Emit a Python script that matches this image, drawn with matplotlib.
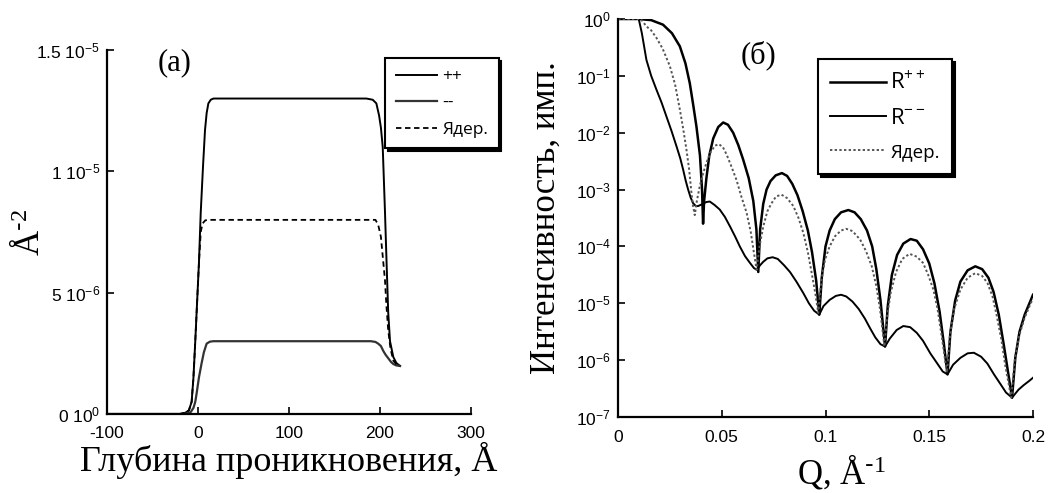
import numpy as np
import matplotlib
matplotlib.use('Agg')
import matplotlib.pyplot as plt
from matplotlib.ticker import FixedLocator, FixedFormatter, LogLocator, NullLocator

plt.rcParams['font.family'] = ['Liberation Sans', 'DejaVu Sans']
plt.rcParams['mathtext.default'] = 'regular'
plt.rcParams['axes.unicode_minus'] = False

serif = {'family': ['Liberation Serif', 'DejaVu Serif']}
legfont = ['Open Sans', 'DejaVu Sans']

# ---------------- (a) SLD profiles, units of 1e-6 A^-2 ----------------
depth_pp = [-100, -20, -14, -10, -7, -5, -3, -1.5, 1, 3, 5.5, 7.7, 9.5, 11.4, 14, 17,
            185, 192, 196, 199, 201, 203, 205.5, 207, 209, 211, 214.6, 218, 222]
sld_pp = [0, 0, 0.05, 0.15, 0.5, 1.5, 3.0, 4.2, 6.2, 8.3, 10.2, 11.7, 12.4, 12.8, 12.95, 13.0,
          13.0, 12.95, 12.8, 12.3, 11.8, 11.0, 8.3, 6.5, 4.2, 3.0, 2.35, 2.1, 1.98]

depth_mm = [-100, -20, -12, -8, -5, -3, -1.5, 1, 4, 6.5, 9.5, 13, 17,
            190, 195, 198, 201, 203.6, 206, 209, 212, 214.6, 218, 222]
sld_mm = [0, 0, 0.02, 0.08, 0.25, 0.5, 0.85, 1.5, 2.1, 2.55, 2.9, 2.98, 3.0,
          3.0, 2.97, 2.9, 2.8, 2.6, 2.45, 2.3, 2.15, 2.06, 2.0, 1.98]

depth_nuc = [-100, -20, -14, -10, -7, -5, -3, -1.5, 1, 3, 5, 8, 11,
             195, 198, 201, 203, 205.5, 207, 209, 211.5, 214.6, 218, 222]
sld_nuc = [0, 0, 0.05, 0.15, 0.5, 1.5, 3.0, 4.2, 6.2, 7.5, 7.85, 7.98, 8.0,
           8.0, 7.8, 7.3, 6.5, 5.5, 4.5, 3.46, 2.7, 2.2, 2.05, 1.98]

sld_ticks = [0, 5e-6, 1e-5, 1.5e-5]
sld_ticklabels = ['0 10$^{0}$', '5 10$^{-6}$', '1 10$^{-5}$', '1.5 10$^{-5}$']
depth_ticks = [-100, 0, 100, 200, 300]

# ---------------- (b) reflectivity, log10(R) ----------------
q_pp = [0.000, 0.010, 0.016, 0.0217, 0.026, 0.0298, 0.0325, 0.0346, 0.0362, 0.0378, 0.0395,
        0.0405, 0.0410, 0.0415, 0.0426, 0.0440, 0.0459, 0.0483, 0.0507, 0.0530, 0.0555,
        0.0580, 0.0603, 0.0630, 0.0652, 0.0667, 0.0676, 0.0685, 0.0700, 0.0716, 0.0735,
        0.0760, 0.0790, 0.0815, 0.0840, 0.0865, 0.0890, 0.0915, 0.0935, 0.0955, 0.0970,
        0.0982, 0.1000, 0.1020, 0.1045, 0.1075, 0.1110, 0.1140, 0.1170, 0.1200, 0.1225,
        0.1245, 0.1265, 0.1287, 0.1300, 0.1320, 0.1345, 0.1375, 0.1410, 0.1440, 0.1470,
        0.1500, 0.1525, 0.1550, 0.1570, 0.1588, 0.1602, 0.1625, 0.1650, 0.1685, 0.1722,
        0.1755, 0.1785, 0.1810, 0.1835, 0.1860, 0.1899, 0.1915, 0.1935, 0.1960, 0.2000]
lg_pp = [0.00, 0.00, -0.02, -0.10, -0.25, -0.48, -0.78, -1.13, -1.50, -1.89, -2.40,
         -3.00, -3.60, -3.20, -2.80, -2.40, -2.10, -1.90, -1.82, -1.86, -2.00,
         -2.22, -2.47, -2.80, -3.20, -3.70, -4.45, -3.70, -3.25, -3.00, -2.85,
         -2.75, -2.71, -2.76, -2.90, -3.10, -3.38, -3.72, -4.10, -4.60, -5.20,
         -4.55, -4.00, -3.72, -3.52, -3.40, -3.36, -3.40, -3.52, -3.72, -4.00,
         -4.40, -4.95, -5.76, -5.05, -4.50, -4.15, -3.95, -3.87, -3.90, -4.05,
         -4.30, -4.65, -5.15, -5.70, -6.25, -5.50, -4.95, -4.62, -4.42, -4.35,
         -4.40, -4.55, -4.80, -5.20, -5.75, -6.66, -5.95, -5.50, -5.20, -4.85]

q_mm = [0.000, 0.010, 0.0115, 0.0137, 0.0160, 0.0185, 0.0210, 0.0233, 0.0258, 0.0282, 0.0300,
        0.0314, 0.0326, 0.0338, 0.0350, 0.0362, 0.0375, 0.0386, 0.0398, 0.0410, 0.0425,
        0.0442, 0.0465, 0.0490, 0.0515, 0.0540, 0.0565, 0.0587, 0.0612, 0.0636, 0.0655,
        0.0668, 0.0685, 0.0700, 0.0720, 0.0745, 0.0770, 0.0800, 0.0829, 0.0860, 0.0893,
        0.0920, 0.0945, 0.0970, 0.0990, 0.1020, 0.1050, 0.1075, 0.1100, 0.1130, 0.1160,
        0.1190, 0.1215, 0.1240, 0.1265, 0.1287, 0.1310, 0.1343, 0.1375, 0.1408, 0.1440,
        0.1470, 0.1505, 0.1537, 0.1565, 0.1588, 0.1615, 0.1650, 0.1685, 0.1715, 0.1750,
        0.1780, 0.1812, 0.1843, 0.1870, 0.1899, 0.1930, 0.1955, 0.1980, 0.2000]
lg_mm = [0.00, 0.00, -0.25, -0.72, -1.00, -1.24, -1.47, -1.71, -1.97, -2.24, -2.45,
         -2.65, -2.84, -3.00, -3.14, -3.24, -3.29, -3.29, -3.27, -3.25, -3.22,
         -3.21, -3.27, -3.35, -3.48, -3.65, -3.83, -4.00, -4.17, -4.29, -4.38,
         -4.41, -4.33, -4.27, -4.21, -4.19, -4.22, -4.33, -4.45, -4.62, -4.82,
         -5.00, -5.13, -5.20, -5.05, -4.94, -4.87, -4.85, -4.88, -4.97, -5.10,
         -5.27, -5.44, -5.60, -5.72, -5.76, -5.62, -5.47, -5.40, -5.42, -5.52,
         -5.66, -5.88, -6.05, -6.20, -6.25, -6.08, -5.96, -5.88, -5.87, -5.94,
         -6.06, -6.25, -6.42, -6.57, -6.66, -6.52, -6.44, -6.37, -6.31]

q_nuc = [0.000, 0.011, 0.0137, 0.0160, 0.0185, 0.0215, 0.0250, 0.0275, 0.0298, 0.0315, 0.0330,
         0.0343, 0.0354, 0.0362, 0.0370, 0.0380, 0.0394, 0.0410, 0.0426, 0.0445, 0.0467,
         0.0485, 0.0505, 0.0523, 0.0545, 0.0571, 0.0595, 0.0620, 0.0640, 0.0655, 0.0668,
         0.0682, 0.0700, 0.0720, 0.0740, 0.0762, 0.0788, 0.0815, 0.0845, 0.0870, 0.0893,
         0.0915, 0.0935, 0.0952, 0.0965, 0.0980, 0.0998, 0.1020, 0.1046, 0.1075, 0.1100,
         0.1130, 0.1167, 0.1195, 0.1223, 0.1245, 0.1263, 0.1284, 0.1298, 0.1315, 0.1340,
         0.1370, 0.1405, 0.1440, 0.1470, 0.1495, 0.1520, 0.1540, 0.1560, 0.1585, 0.1600,
         0.1620, 0.1650, 0.1685, 0.1722, 0.1755, 0.1780, 0.1805, 0.1826, 0.1848, 0.1867,
         0.1895, 0.1912, 0.1935, 0.1960, 0.2000]
lg_nuc = [0.00, 0.00, -0.13, -0.20, -0.33, -0.52, -0.83, -1.15, -1.59, -1.95, -2.30,
          -2.65, -3.06, -3.30, -3.45, -3.20, -2.94, -2.72, -2.53, -2.35, -2.23,
          -2.20, -2.25, -2.38, -2.58, -2.83, -3.13, -3.41, -3.75, -4.11, -4.41,
          -4.00, -3.65, -3.38, -3.24, -3.12, -3.09, -3.15, -3.29, -3.50, -3.76,
          -4.10, -4.50, -4.85, -5.17, -4.60, -4.23, -4.00, -3.82, -3.72, -3.69,
          -3.73, -3.88, -4.08, -4.35, -4.70, -5.11, -5.76, -5.20, -4.80, -4.45,
          -4.22, -4.13, -4.18, -4.29, -4.50, -4.76, -5.10, -5.58, -6.22, -5.55,
          -5.10, -4.76, -4.55, -4.47, -4.52, -4.64, -4.88, -5.23, -5.65, -6.11,
          -6.66, -6.00, -5.55, -5.25, -4.91]

q_ticks = [0, 0.05, 0.1, 0.15, 0.2]
q_ticklabels = ['0', '0.05', '0.1', '0.15', '0.2']

fig = plt.figure(figsize=(10.55, 4.93), dpi=100)

# ---------------- panel (a) ----------------
ax1 = fig.add_axes([107 / 1055, 79 / 493, 364 / 1055, 364 / 493])
ax1.plot(depth_pp, np.array(sld_pp) * 1e-6, color='black', lw=1.4, label='++')
ax1.plot(depth_mm, np.array(sld_mm) * 1e-6, color='#333333', lw=1.6, label='--')
ax1.plot(depth_nuc, np.array(sld_nuc) * 1e-6, color='black', lw=1.3,
         ls=(0, (3, 2)), label='Ядер.')
ax1.set_xlim(-100, 300)
ax1.set_ylim(0, 1.5e-5)
ax1.xaxis.set_major_locator(FixedLocator(depth_ticks))
ax1.yaxis.set_major_locator(FixedLocator(sld_ticks))
ax1.yaxis.set_major_formatter(FixedFormatter(sld_ticklabels))
for s in ['top', 'right']:
    ax1.spines[s].set_visible(False)
for s in ['left', 'bottom']:
    ax1.spines[s].set_linewidth(1.6)
ax1.tick_params(direction='in', length=5, width=1.2, labelsize=12.5)
ax1.tick_params(axis='x', pad=9)
ax1.tick_params(axis='y', pad=5)
ax1.set_xlabel('Глубина проникновения, Å', fontsize=26, labelpad=0, **serif)
ax1.set_ylabel(r'Å$^{\text{-}2}$', fontsize=25, **serif)
ax1.yaxis.set_label_coords(-0.165, 0.5)
ax1.text(0.14, 1.005, '(a)', transform=ax1.transAxes, fontsize=22, va='top', **serif)

leg1 = ax1.legend(loc='upper left', bbox_to_anchor=(0.764, 0.978), borderaxespad=0,
                  frameon=True, fancybox=False, shadow={'color': 'black', 'alpha': 1.0},
                  handlelength=2.4, handletextpad=0.3, borderpad=0.6, labelspacing=0.6,
                  prop={'family': legfont, 'size': 12.5})
leg1.get_frame().set_edgecolor('black')
leg1.get_frame().set_linewidth(1.5)

# ---------------- panel (b) ----------------
ax2 = fig.add_axes([618 / 1055, 76 / 493, 415 / 1055, 398 / 493])
ax2.plot(q_pp, 10 ** np.array(lg_pp), color='black', lw=1.8, label='R$^{++}$')
ax2.plot(q_mm, 10 ** np.array(lg_mm), color='black', lw=1.4, label='R$^{--}$')
ax2.plot(q_nuc, 10 ** np.array(lg_nuc), color='#555555', lw=1.4,
         ls=(0, (1.2, 1.2)), label='Ядер.')
ax2.set_yscale('log')
ax2.set_xlim(0, 0.2)
ax2.set_ylim(1e-7, 1)
ax2.xaxis.set_major_locator(FixedLocator(q_ticks))
ax2.xaxis.set_major_formatter(FixedFormatter(q_ticklabels))
ax2.yaxis.set_major_locator(LogLocator(base=10, numticks=10))
ax2.yaxis.set_minor_locator(NullLocator())
for s in ['top', 'right']:
    ax2.spines[s].set_visible(False)
for s in ['left', 'bottom']:
    ax2.spines[s].set_linewidth(1.6)
ax2.tick_params(direction='in', length=5, width=1.2, labelsize=12.5)
ax2.tick_params(axis='x', pad=9)
ax2.tick_params(axis='y', pad=5)
ax2.set_xlabel(r'Q, Å$^{\text{-}1}$', fontsize=25, **serif)
ax2.xaxis.set_label_coords(0.54, -0.09)
ax2.set_ylabel('Интенсивность, имп.', fontsize=25, **serif)
ax2.yaxis.set_label_coords(-0.133, 0.5)
ax2.text(0.295, 0.945, '(б)', transform=ax2.transAxes, fontsize=22, va='top', **serif)

leg2 = ax2.legend(loc='upper left', bbox_to_anchor=(0.482, 0.90), borderaxespad=0,
                  frameon=True, fancybox=False, shadow={'color': 'black', 'alpha': 1.0},
                  handlelength=2.5, handletextpad=0.2, borderpad=0.55, labelspacing=0.6,
                  prop={'family': legfont, 'size': 16})
leg2.get_frame().set_edgecolor('black')
leg2.get_frame().set_linewidth(1.5)
leg2.get_texts()[2].set_fontsize(13.5)

fig.savefig('out.png', dpi=100)
